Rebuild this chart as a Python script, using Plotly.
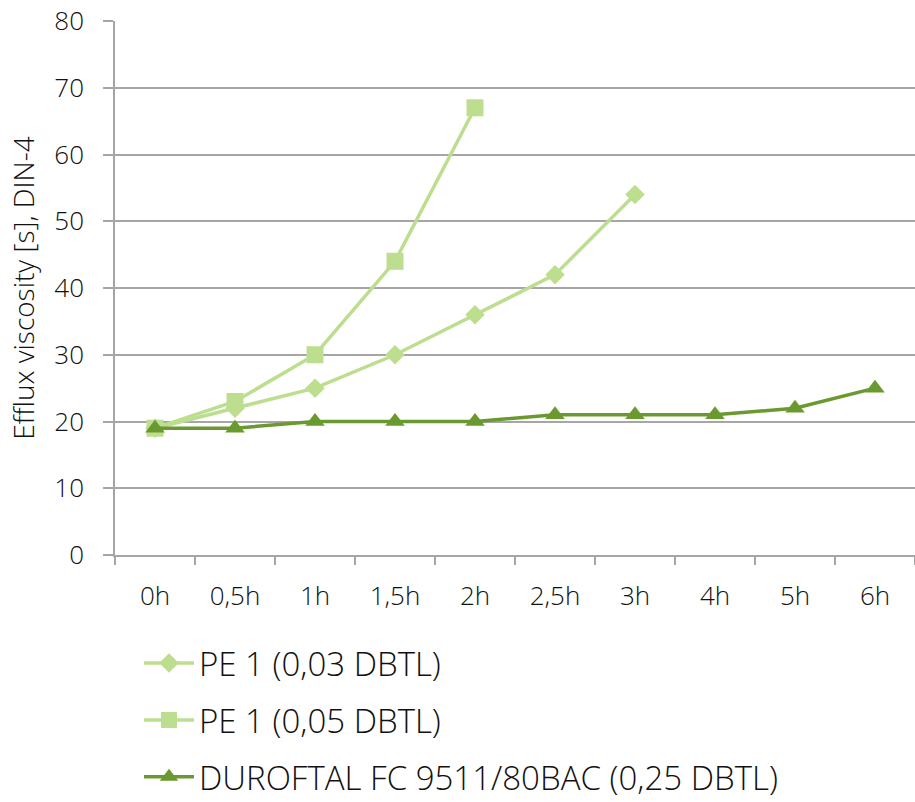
import plotly.graph_objects as go

# Time points (categories) and efflux viscosity readings in seconds (DIN-4 cup)
times = ["0h", "0,5h", "1h", "1,5h", "2h", "2,5h", "3h", "4h", "5h", "6h"]

pe1_003 = [19, 22, 25, 30, 36, 42, 54]
pe1_005 = [19, 23, 30, 44, 67]
duroftal = [19, 19, 20, 20, 20, 21, 21, 21, 22, 25]

series_names = [
    "PE 1 (0,03 DBTL)",
    "PE 1 (0,05 DBTL)",
    "DUROFTAL FC 9511/80BAC (0,25 DBTL)",
]

y_ticks = [0, 10, 20, 30, 40, 50, 60, 70, 80]

light_green = "#BCDE8E"
dark_green = "#6A9A2F"
grid_grey = "#A6A6A6"
text_color = "#111111"
font_family = "Open Sans, Segoe UI, sans-serif"

fig = go.Figure()

fig.add_trace(go.Scatter(
    x=times[:len(pe1_003)], y=pe1_003, name=series_names[0],
    mode="lines+markers", legendgroup="a",
    line=dict(color=light_green, width=3.5),
    marker=dict(symbol="diamond", size=15, color=light_green),
))
fig.add_trace(go.Scatter(
    x=times[:len(pe1_005)], y=pe1_005, name=series_names[1],
    mode="lines+markers", legendgroup="b",
    line=dict(color=light_green, width=3.5),
    marker=dict(symbol="square", size=17, color=light_green),
))
fig.add_trace(go.Scatter(
    x=times, y=duroftal, name=series_names[2],
    mode="lines+markers", legendgroup="c",
    line=dict(color=dark_green, width=3.5),
    marker=dict(symbol="triangle-up", size=17, color=dark_green),
))

fig.update_layout(
    width=915, height=802,
    margin=dict(l=115, r=0, t=21, b=247, autoexpand=False),
    paper_bgcolor="white", plot_bgcolor="white",
    font=dict(family=font_family, color=text_color, size=26, weight=300),
    showlegend=True,
    legend=dict(
        x=0.03, xanchor="left", y=-0.15, yanchor="top",
        orientation="v", traceorder="grouped", tracegroupgap=11,
        itemwidth=50,
        font=dict(size=33, family=font_family, color=text_color, weight=300),
        bgcolor="rgba(0,0,0,0)",
    ),
)

fig.update_xaxes(
    type="category", categoryorder="array", categoryarray=times,
    range=[-0.5, len(times) - 0.5],
    showgrid=False, zeroline=False,
    showline=True, linecolor=grid_grey, linewidth=1.5,
    ticks="outside", tickson="boundaries", ticklen=8,
    tickcolor=grid_grey, tickwidth=1.5,
    ticklabelstandoff=17,
    tickfont=dict(size=26, family=font_family, weight=300, color=text_color),
)

fig.update_yaxes(
    range=[0, 80], tickvals=y_ticks,
    showgrid=True, gridcolor=grid_grey, gridwidth=1.5,
    zeroline=False,
    showline=True, linecolor=grid_grey, linewidth=1.5,
    ticks="outside", ticklen=10, tickcolor=grid_grey, tickwidth=1.5,
    ticklabelstandoff=14,
    tickfont=dict(size=26, family=font_family, weight=300, color=text_color),
    title=dict(text="Efflux viscosity [s], DIN-4", standoff=12,
               font=dict(size=28, family=font_family, weight=300, color=text_color)),
)

fig.write_html("out.html")
